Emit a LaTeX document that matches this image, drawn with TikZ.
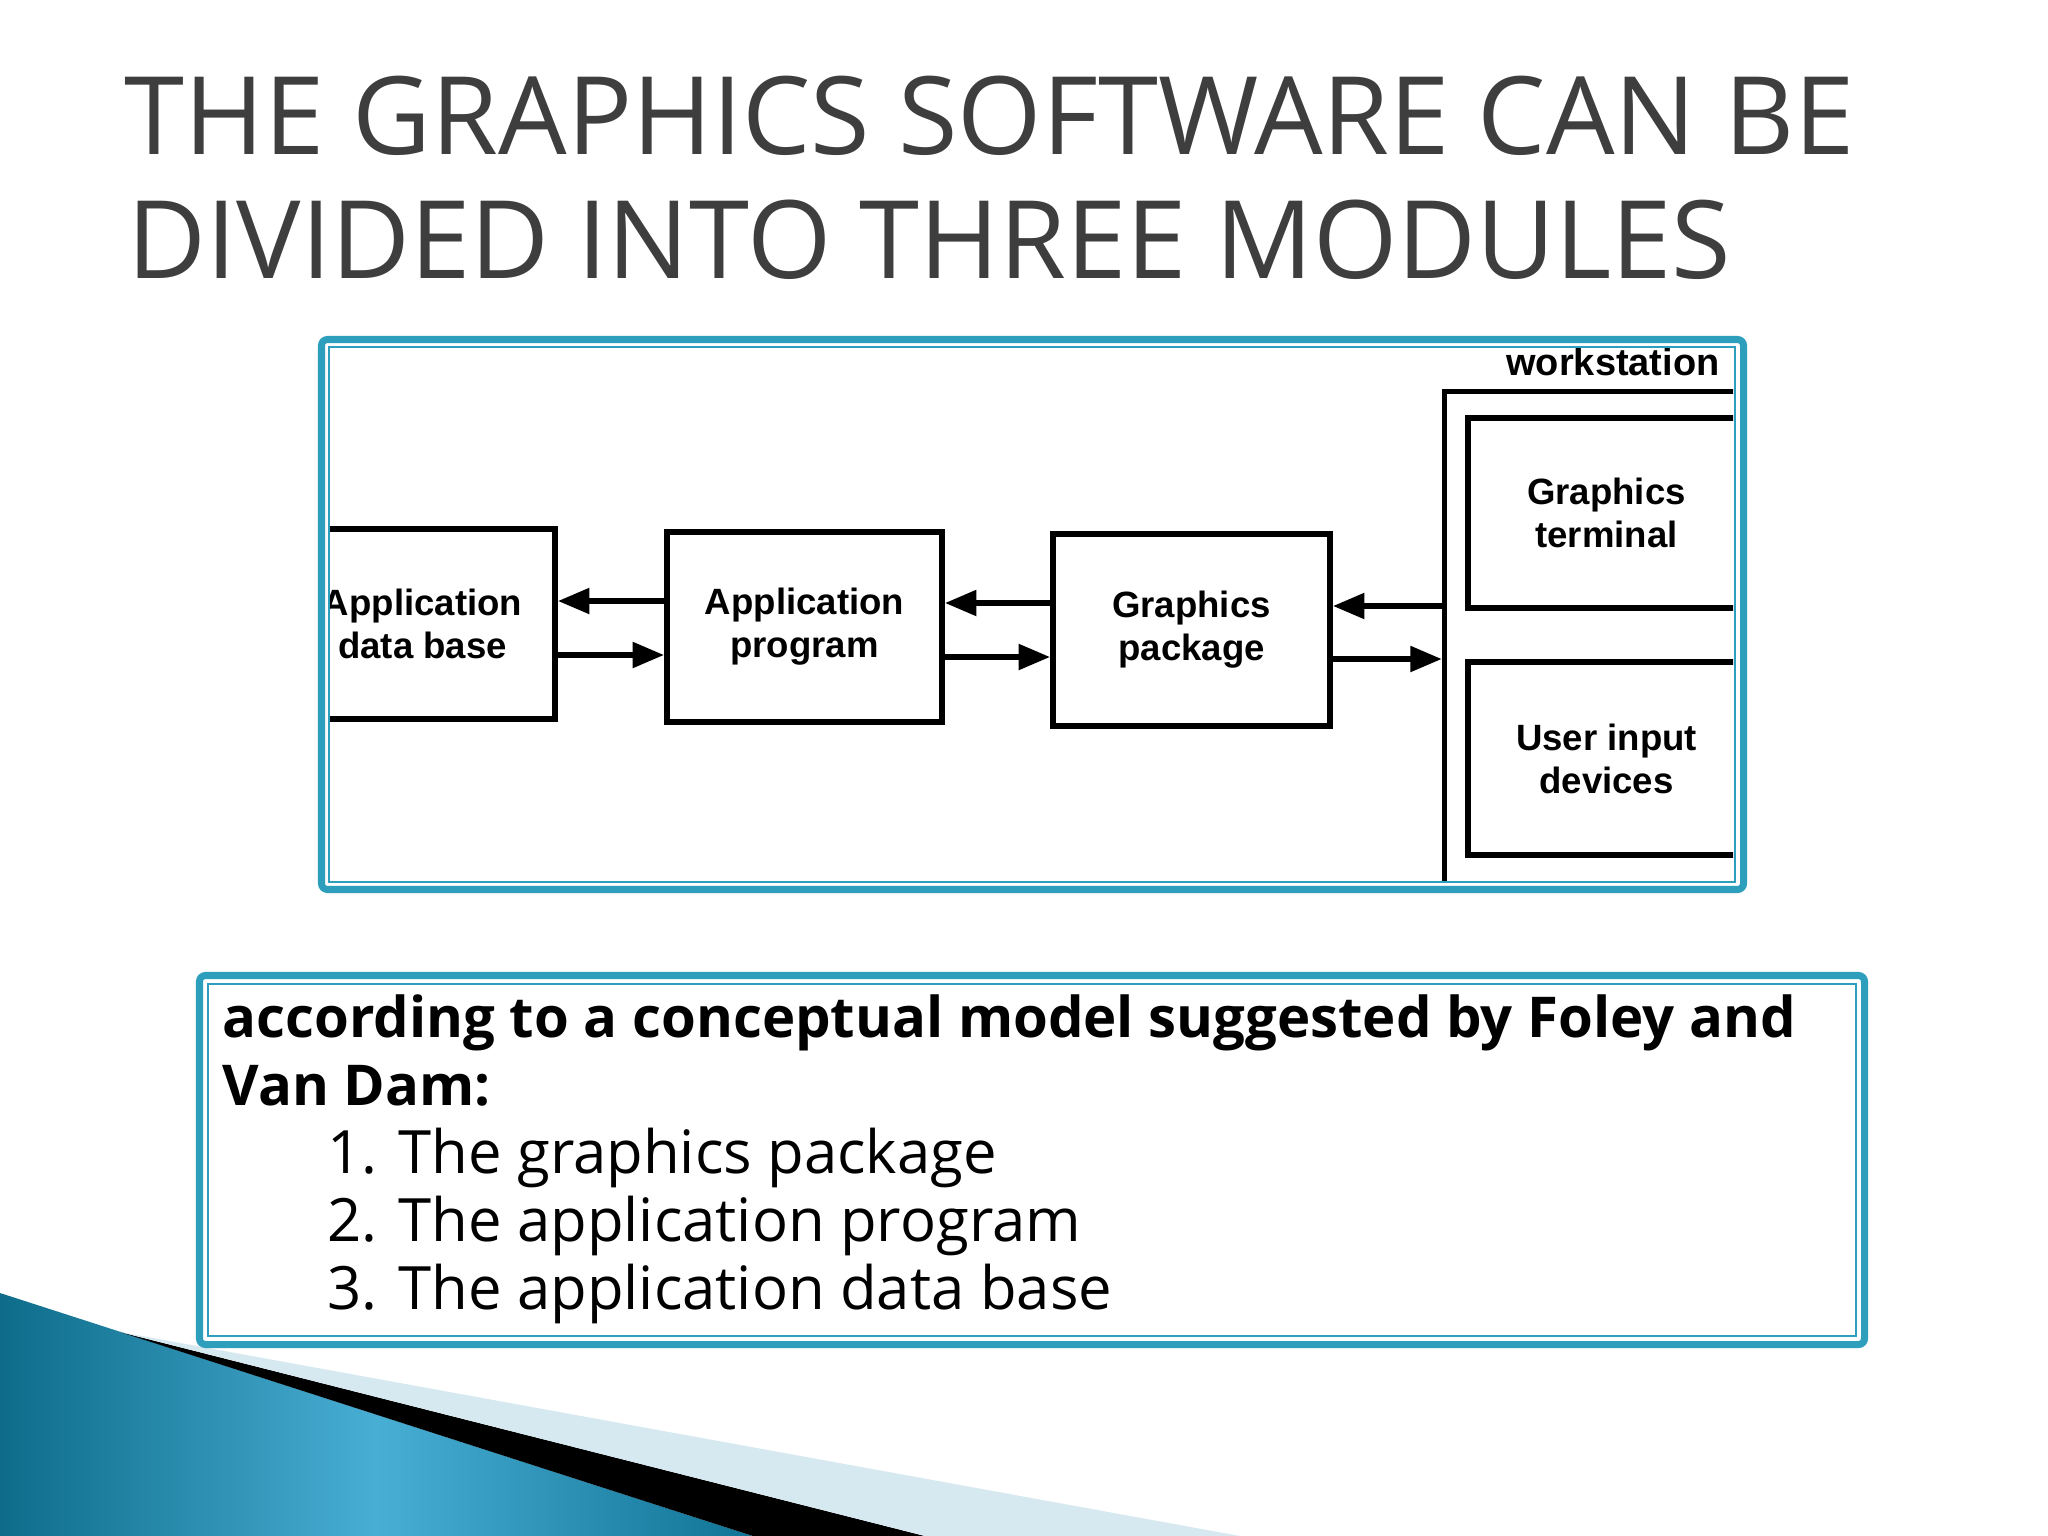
\documentclass[tikz,border=0pt]{standalone}
\usepackage{fontspec}
\setmainfont{Open Sans}
\newfontfamily\diagfont{Liberation Sans}
\newfontfamily\titlefont{Open Sans}
\usetikzlibrary{arrows.meta,calc}
\definecolor{framecol}{RGB}{46,158,189}
\definecolor{titlegray}{RGB}{62,62,62}
\definecolor{tealdark}{RGB}{14,108,138}
\definecolor{teallight}{RGB}{72,174,212}
\definecolor{tealend}{RGB}{16,116,150}
\definecolor{paleblue}{RGB}{214,232,240}
\tikzset{
  box/.style={draw=black, line width=1.5pt, inner sep=0pt, align=center,
    font=\diagfont\bfseries\fontsize{10.4}{12.2}\selectfont},
  arr/.style={line width=1.8pt, -{Triangle[length=9pt,width=7pt]}},
  thickframe/.style={draw=framecol, line width=2pt, rounded corners=0.06cm},
  thinframe/.style={draw=framecol, line width=0.6pt},
  titletext/.style={anchor=base west, inner sep=0pt, text=titlegray,
    font=\titlefont\fontsize{30.8}{36}\selectfont},
  bodytext/.style={anchor=base west, inner sep=0pt, text=black,
    font=\fontsize{17}{20}\selectfont},
  boldtext/.style={anchor=base west, inner sep=0pt, text=black,
    font=\bfseries\fontsize{16}{20}\selectfont},
}
\begin{document}
\begin{tikzpicture}[x=0.01cm, y=-0.01cm]
\useasboundingbox (0,0) rectangle (2048,1536);
\fill[white] (0,0) rectangle (2048,1536);

% title
\node[titletext] (t1) at (124,154) {THE GRAPHICS SOFTWARE CAN BE};
\node[titletext] (t2) at (127,278) {DIVIDED INTO THREE MODULES};

% bottom-left decoration
\shade[left color=tealdark, right color=tealend, middle color=teallight]
  (0,1293) -- (753,1536) -- (0,1536) -- cycle;
\fill[black] (120,1332) -- (925,1536) -- (753,1536) -- cycle;
\fill[paleblue] (120,1332) -- (1240,1536) -- (925,1536) -- cycle;

% diagram frame
\fill[white] (321.5,339.5) rectangle (1743.5,889.5);
\begin{scope}
\clip (330,348) rectangle (1733,880);
\node[box, minimum width=2.65cm, minimum height=1.9cm] (adb) at (422.5,624) {Application\\data base};
\node[box, minimum width=2.75cm, minimum height=1.9cm] (ap) at (804.5,627) {Application\\program};
\node[box, minimum width=2.77cm, minimum height=1.92cm] (gp) at (1191.5,630) {Graphics\\package};
\node[box, anchor=north west, minimum width=5cm, minimum height=8cm] (ws) at (1442,389) {};
\node[box, minimum width=2.77cm, minimum height=1.9cm] (gt) at (1606.5,513) {Graphics\\terminal};
\node[box, minimum width=2.77cm, minimum height=1.93cm] (uid) at (1606.5,758.5) {User input\\devices};
\node[font=\diagfont\bfseries\fontsize{10.8}{12}\selectfont, inner sep=0pt] (wsl) at (1613,362) {workstation};
\coordinate (ra1) at (0,601); \coordinate (ra2) at (0,655);
\coordinate (rb1) at (0,603); \coordinate (rb2) at (0,657);
\coordinate (rc1) at (0,606); \coordinate (rc2) at (0,659);
\draw[arr] (ap.west |- ra1) -- (adb.east |- ra1);
\draw[arr] (adb.east |- ra2) -- (ap.west |- ra2);
\draw[arr] (gp.west |- rb1) -- (ap.east |- rb1);
\draw[arr] (ap.east |- rb2) -- (gp.west |- rb2);
\draw[arr] (ws.west |- rc1) -- (gp.east |- rc1);
\draw[arr] (gp.east |- rc2) -- (ws.west |- rc2);
\end{scope}
\draw[thickframe] (321.5,339.5) rectangle (1743.5,889.5);
\draw[thinframe] (329,347) rectangle (1735,882);

% text box
\fill[white] (199.5,975.5) rectangle (1864.5,1344.5);
\draw[thickframe] (199.5,975.5) rectangle (1864.5,1344.5);
\draw[thinframe] (208,984) rectangle (1856,1336);
\node[boldtext] (b1) at (222,1037) {according to a conceptual model suggested by Foley and};
\node[boldtext] (b2) at (222,1105) {Van Dam:};
\node[bodytext] (i1) at (327,1173) {1. The graphics package};
\node[bodytext] (i2) at (327,1241) {2. The application program};
\node[bodytext] (i3) at (327,1309) {3. The application data base};
\end{tikzpicture}
\end{document}
